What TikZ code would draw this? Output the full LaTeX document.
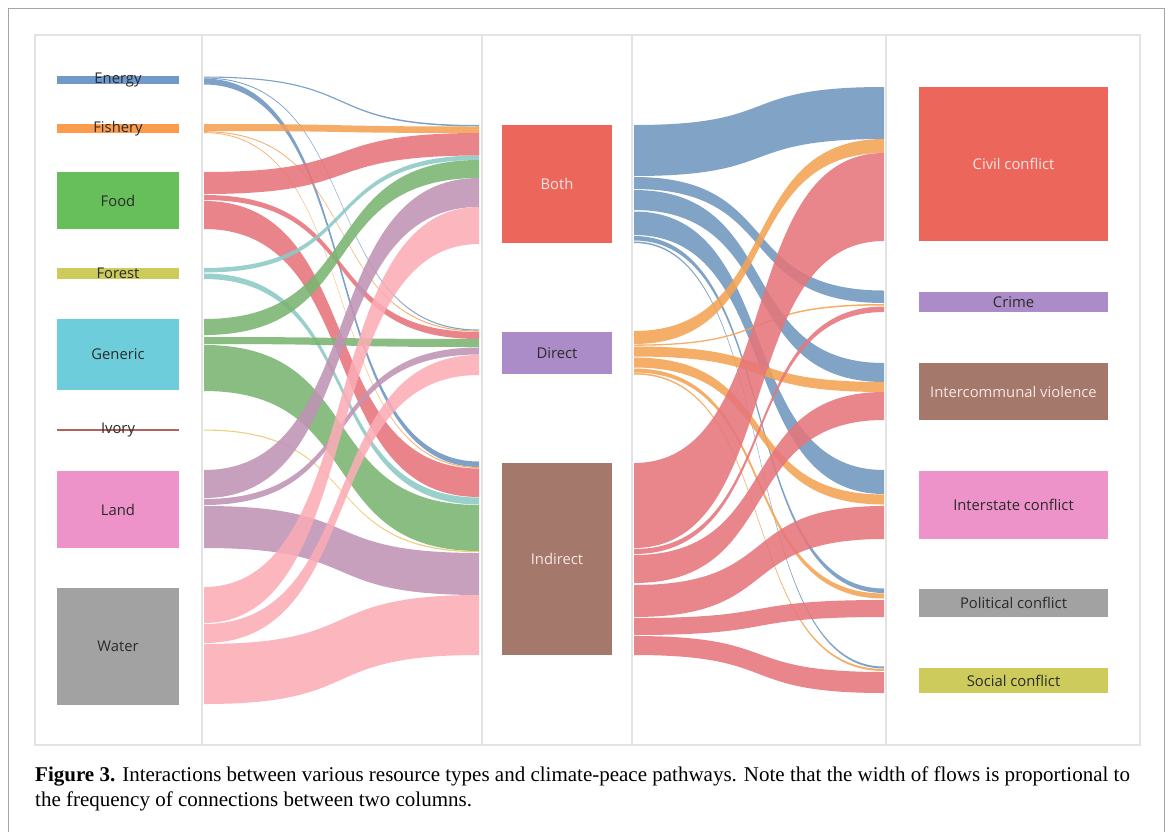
\documentclass[tikz,border=0pt]{standalone}
\usepackage{fontspec}
\setmainfont{Liberation Serif}
\newfontfamily\tabfont{Open Sans}
% node colours
\definecolor{cEnergy}{HTML}{7099CA}
\definecolor{cFish}{HTML}{FA9C4C}
\definecolor{cFood}{HTML}{66BF5B}
\definecolor{cForest}{HTML}{CDCB5B}
\definecolor{cGeneric}{HTML}{6DCDDB}
\definecolor{cIvory}{HTML}{B5625A}
\definecolor{cLand}{HTML}{EE93C9}
\definecolor{cWater}{HTML}{A2A2A2}
\definecolor{cRed}{HTML}{EC665B}
\definecolor{cPurple}{HTML}{AB8BC8}
\definecolor{cBrown}{HTML}{A5786C}
% flow colours
\definecolor{fEnergy}{HTML}{6E95C0}
\definecolor{fFish}{HTML}{F4A151}
\definecolor{fFood}{HTML}{E6747A}
\definecolor{fForest}{HTML}{8BCAC4}
\definecolor{fGeneric}{HTML}{79B571}
\definecolor{fIvory}{HTML}{E9C96A}
\definecolor{fLand}{HTML}{BF93B4}
\definecolor{fWater}{HTML}{FBACB6}
\definecolor{fBoth}{HTML}{7097BD}
\definecolor{fDirect}{HTML}{F3A352}
\definecolor{fIndirect}{HTML}{E6767B}
\definecolor{txt}{HTML}{2B2B2B}
\definecolor{wtxt}{HTML}{F8E6E2}
\definecolor{sepline}{HTML}{E3E3E3}
% flow between x=204 and x=479 (left section), sigmoid-like
\newcommand\flowL[5]{%
  \fill[#5, fill opacity=0.88] (204,#1) .. controls (369,#1) and (314,#3) .. (479,#3)
    -- (479,#4) .. controls (314,#4) and (369,#2) .. (204,#2) -- cycle;}
% flow between x=634 and x=884 (right section)
\newcommand\flowR[5]{%
  \fill[#5, fill opacity=0.88] (634,#1) .. controls (784,#1) and (734,#3) .. (884,#3)
    -- (884,#4) .. controls (734,#4) and (784,#2) .. (634,#2) -- cycle;}
\begin{document}
\begin{tikzpicture}[x=1pt,y=-1pt,
  bar/.style={draw=none, inner sep=0pt, outer sep=0pt},
  lab/.style={font=\tabfont\fontsize{14.8}{17}\selectfont, text=txt, inner sep=0pt},
  wlab/.style={lab, text=wtxt},
  capline/.style={anchor=base west, inner sep=0pt, font=\fontsize{21}{24}\selectfont}]
\useasboundingbox (0,0) rectangle (1171,831);
\fill[white] (0,0) rectangle (1171,831);
% outer frame (open at the bottom edge of the crop)
\draw[line width=1.2pt, draw={rgb,255:red,165;green,165;blue,165}] (8.5,835) -- (8.5,8.5) -- (1164.5,8.5) -- (1164.5,835);
% inner chart frame
\draw[line width=1.4pt, sepline] (35,35) rectangle (1140,745);
% column separators
\foreach \xx in {202,482,632,886} \draw[line width=2.6pt, sepline] (\xx,35) -- (\xx,745);

% ---------- left flows (source coloured) ----------
% Energy
\flowL{76.5}{77.6}{125}{126.5}{fEnergy}
\flowL{77.6}{78.5}{329.5}{330.6}{fEnergy}
\flowL{78.6}{84.5}{461.5}{467}{fEnergy}
% Fishery
\flowL{124}{131}{126.5}{133}{fFish}
\flowL{131.2}{132.1}{330.6}{331.6}{fFish}
\flowL{132.2}{133}{467}{468}{fFish}
% Food
\flowL{172}{194}{133}{155.5}{fFood}
\flowL{195}{200}{332}{339}{fFood}
\flowL{201}{229}{468.5}{497}{fFood}
% Forest
\flowL{268}{272.5}{155.5}{160}{fForest}
\flowL{273.5}{279}{497.5}{504.5}{fForest}
% Generic
\flowL{319}{335}{160}{178}{fGeneric}
\flowL{337}{344}{339}{347}{fGeneric}
\flowL{345}{391}{505}{551}{fGeneric}
% Ivory
\flowL{429.5}{430.6}{551}{552.2}{fIvory}
% Land
\flowL{470}{498}{178}{207}{fLand}
\flowL{499}{505}{347.5}{354.5}{fLand}
\flowL{506}{548}{553}{595}{fLand}
% Water
\flowL{587}{623}{207}{244}{fWater}
\flowL{624}{643}{355}{375}{fWater}
\flowL{644}{704}{595}{655}{fWater}

% ---------- right flows (pathway coloured) ----------
% Both
\flowR{125}{176}{87}{139}{fBoth}
\flowR{177}{189}{290.5}{303}{fBoth}
\flowR{190}{210}{363}{382}{fBoth}
\flowR{211.5}{235}{470}{494}{fBoth}
\flowR{236}{240.5}{588.5}{593}{fBoth}
\flowR{241.5}{243}{666.5}{668.5}{fBoth}
% Direct
\flowR{331}{344}{139}{153}{fDirect}
\flowR{344.5}{345.8}{304}{305.5}{fDirect}
\flowR{346.5}{356.5}{382}{392}{fDirect}
\flowR{357.5}{367.5}{494.5}{504.5}{fDirect}
\flowR{368.5}{372.5}{593.5}{598.5}{fDirect}
\flowR{373}{374.5}{669}{671}{fDirect}
% Indirect
\flowR{463}{548}{153}{241}{fIndirect}
\flowR{549}{554}{306.5}{312}{fIndirect}
\flowR{555}{583}{392}{420}{fIndirect}
\flowR{585}{617}{506}{539}{fIndirect}
\flowR{618}{635}{600}{617}{fIndirect}
\flowR{636}{655}{672}{693}{fIndirect}

% ---------- resource nodes ----------
\node[bar, fill=cEnergy, minimum width=122pt, minimum height=8pt] (energy) at (118,80) {};
\node[lab] (energyL) at (energy) {Energy};
\node[bar, fill=cFish, minimum width=122pt, minimum height=9pt] (fishery) at (118,128.5) {};
\node[lab] (fisheryL) at (fishery) {Fishery};
\node[bar, fill=cFood, minimum width=122pt, minimum height=57pt] (food) at (118,200.5) {};
\node[lab] (foodL) at (food) {Food};
\node[bar, fill=cForest, minimum width=122pt, minimum height=11pt] (forest) at (118,273.5) {};
\node[lab] (forestL) at (forest) {Forest};
\node[bar, fill=cGeneric, minimum width=122pt, minimum height=71pt] (generic) at (118,354.5) {};
\node[lab] (genericL) at (generic) {Generic};
\node[bar, fill=cIvory, minimum width=122pt, minimum height=1.3pt] (ivory) at (118,430) {};
\node[lab] (ivoryL) at (ivory) {Ivory};
\node[bar, fill=cLand, minimum width=122pt, minimum height=77pt] (land) at (118,509.5) {};
\node[lab] (landL) at (land) {Land};
\node[bar, fill=cWater, minimum width=122pt, minimum height=117pt] (water) at (118,646) {};
\node[lab] (waterL) at (water) {Water};

% ---------- pathway nodes ----------
\node[bar, fill=cRed, minimum width=110pt, minimum height=118pt] (both) at (557,184) {};
\node[wlab] (bothL) at (both) {Both};
\node[bar, fill=cPurple, minimum width=110pt, minimum height=42pt] (direct) at (557,353) {};
\node[lab] (directL) at (direct) {Direct};
\node[bar, fill=cBrown, minimum width=110pt, minimum height=192pt] (indirect) at (557,559) {};
\node[wlab] (indirectL) at (indirect) {Indirect};

% ---------- conflict nodes ----------
\node[bar, fill=cRed, minimum width=189pt, minimum height=154pt] (civil) at (1013.5,164) {};
\node[wlab] (civilL) at (civil) {Civil conflict};
\node[bar, fill=cPurple, minimum width=189pt, minimum height=20pt] (crime) at (1013.5,302) {};
\node[lab] (crimeL) at (crime) {Crime};
\node[bar, fill=cBrown, minimum width=189pt, minimum height=57pt] (interc) at (1013.5,391.5) {};
\node[wlab] (intercL) at (interc) {Intercommunal violence};
\node[bar, fill=cLand, minimum width=189pt, minimum height=68pt] (inters) at (1013.5,505) {};
\node[lab] (intersL) at (inters) {Interstate conflict};
\node[bar, fill=cWater, minimum width=189pt, minimum height=28pt] (polit) at (1013.5,603) {};
\node[lab] (politL) at (polit) {Political conflict};
\node[bar, fill=cForest, minimum width=189pt, minimum height=25pt] (social) at (1013.5,680.5) {};
\node[lab] (socialL) at (social) {Social conflict};

% ---------- caption ----------
\node[capline] (cap1) at (35,781) {\textbf{Figure 3.} Interactions between various resource types and climate-peace pathways. Note that the width of flows is proportional to};
\node[capline] (cap2) at (35,806) {the frequency of connections between two columns.};
\end{tikzpicture}
\end{document}
